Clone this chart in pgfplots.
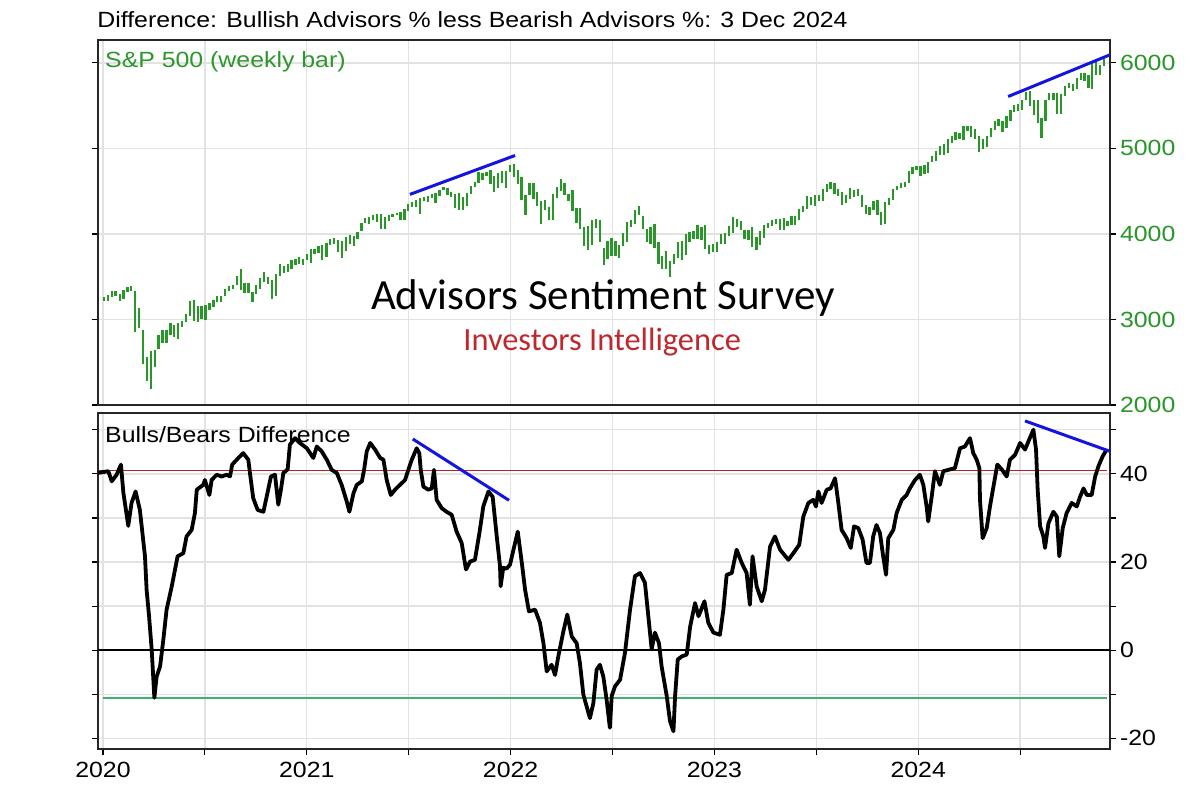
\documentclass[border=0pt]{standalone}
\usepackage{fontspec}
\setmainfont{Liberation Sans}
\newfontfamily\chartfont[FakeStretch=1.13]{Liberation Sans}
\newfontfamily\calibri{Carlito}
\usepackage{pgfplots}
\usepackage{pgfplotstable}
\pgfplotsset{compat=1.18}

\definecolor{spgreen}{RGB}{40,150,40}
\definecolor{lblgreen}{RGB}{45,150,45}
\definecolor{redline}{RGB}{178,34,34}
\definecolor{greenline}{RGB}{60,179,113}
\definecolor{trendblue}{RGB}{20,20,225}
\definecolor{iired}{RGB}{192,39,45}
\definecolor{gridgray}{RGB}{226,226,226}

\pgfplotstableread{
t lo hi
2020.005 3215 3260
2020.024 3215 3282
2020.043 3263 3330
2020.062 3280 3338
2020.082 3214 3293
2020.101 3235 3347
2020.120 3317 3385
2020.139 3328 3393
2020.158 2855 3337
2020.177 2901 3137
2020.197 2478 2882
2020.216 2281 2563
2020.235 2192 2637
2020.254 2447 2641
2020.273 2653 2818
2020.292 2724 2880
2020.312 2727 2871
2020.331 2821 2955
2020.350 2798 2933
2020.369 2767 2954
2020.388 2910 2980
2020.407 2969 3068
2020.427 3038 3211
2020.446 2984 3233
2020.465 2965 3155
2020.484 3007 3155
2020.503 2999 3165
2020.522 3115 3198
2020.542 3142 3233
2020.561 3200 3280
2020.580 3209 3272
2020.599 3280 3352
2020.618 3330 3387
2020.637 3355 3399
2020.657 3401 3509
2020.676 3349 3588
2020.695 3310 3425
2020.714 3305 3429
2020.733 3209 3321
2020.752 3297 3397
2020.772 3361 3482
2020.791 3441 3549
2020.810 3415 3502
2020.829 3234 3464
2020.848 3280 3529
2020.867 3511 3646
2020.887 3545 3628
2020.906 3555 3644
2020.925 3594 3700
2020.944 3633 3712
2020.963 3647 3726
2020.982 3636 3712
2021.002 3699 3760
2021.019 3663 3826
2021.038 3760 3823
2021.057 3779 3861
2021.076 3694 3870
2021.096 3726 3894
2021.115 3874 3937
2021.134 3885 3950
2021.153 3789 3928
2021.172 3723 3914
2021.191 3805 3960
2021.211 3886 3983
2021.230 3853 3978
2021.249 3944 4020
2021.268 4035 4129
2021.287 4122 4191
2021.306 4118 4194
2021.326 4167 4218
2021.345 4134 4238
2021.364 4056 4237
2021.383 4062 4200
2021.402 4146 4219
2021.421 4193 4233
2021.441 4219 4250
2021.460 4165 4257
2021.479 4165 4286
2021.498 4271 4355
2021.517 4311 4372
2021.536 4319 4393
2021.556 4234 4415
2021.575 4385 4430
2021.594 4368 4441
2021.613 4423 4468
2021.632 4367 4480
2021.651 4443 4513
2021.671 4508 4545
2021.690 4457 4539
2021.709 4430 4486
2021.728 4305 4465
2021.747 4279 4476
2021.766 4278 4429
2021.786 4329 4475
2021.805 4465 4559
2021.824 4546 4608
2021.843 4595 4718
2021.862 4630 4707
2021.881 4672 4718
2021.901 4586 4744
2021.920 4495 4672
2021.939 4532 4713
2021.958 4600 4731
2021.977 4532 4740
2021.996 4725 4808
2022.016 4663 4819
2022.035 4582 4749
2022.054 4395 4665
2022.073 4222 4453
2022.093 4451 4595
2022.112 4412 4590
2022.131 4327 4490
2022.150 4115 4385
2022.169 4279 4402
2022.188 4157 4320
2022.208 4161 4465
2022.227 4424 4546
2022.246 4506 4637
2022.265 4450 4593
2022.284 4381 4471
2022.303 4262 4513
2022.323 4124 4308
2022.342 4062 4307
2022.361 3859 4081
2022.380 3811 4090
2022.399 3875 4158
2022.418 4074 4178
2022.438 3900 4168
2022.457 3637 3838
2022.476 3705 3913
2022.495 3738 3951
2022.514 3743 3918
2022.533 3722 3875
2022.553 3856 4013
2022.572 3911 4140
2022.591 4079 4167
2022.610 4117 4281
2022.629 4218 4325
2022.648 4057 4204
2022.668 3907 4063
2022.687 3886 4077
2022.706 3838 4119
2022.725 3647 3908
2022.744 3585 3736
2022.763 3584 3806
2022.783 3491 3678
2022.802 3647 3762
2022.821 3716 3906
2022.840 3698 3920
2022.859 3750 4001
2022.878 3906 4028
2022.898 3940 4034
2022.917 3937 4100
2022.936 3923 4077
2022.955 3828 4101
2022.974 3764 3876
2022.993 3783 3878
2023.014 3794 3906
2023.033 3877 4004
2023.052 3886 4015
2023.071 3973 4094
2023.091 4015 4195
2023.110 4079 4176
2023.129 4047 4156
2023.148 3943 4050
2023.167 3928 4048
2023.186 3847 4079
2023.206 3808 3964
2023.225 3875 4039
2023.244 3951 4110
2023.263 4069 4133
2023.282 4098 4164
2023.301 4113 4170
2023.321 4049 4170
2023.340 4048 4187
2023.359 4098 4155
2023.378 4103 4212
2023.397 4103 4213
2023.416 4166 4290
2023.436 4260 4322
2023.455 4291 4448
2023.474 4341 4429
2023.493 4328 4458
2023.512 4385 4456
2023.531 4390 4527
2023.551 4494 4578
2023.570 4528 4607
2023.589 4464 4594
2023.608 4448 4527
2023.627 4336 4491
2023.646 4356 4458
2023.666 4403 4541
2023.685 4430 4514
2023.704 4444 4527
2023.723 4317 4458
2023.742 4238 4337
2023.761 4216 4310
2023.781 4284 4385
2023.800 4223 4393
2023.819 4103 4255
2023.838 4113 4374
2023.857 4341 4418
2023.876 4393 4521
2023.896 4513 4560
2023.915 4537 4599
2023.934 4546 4610
2023.953 4593 4739
2023.972 4699 4778
2023.991 4751 4793
2024.011 4682 4798
2024.030 4699 4802
2024.049 4714 4842
2024.068 4845 4907
2024.088 4853 4975
2024.107 4918 5030
2024.126 4920 5048
2024.145 4946 5111
2024.164 5057 5140
2024.183 5094 5190
2024.203 5105 5180
2024.222 5094 5262
2024.241 5203 5264
2024.260 5138 5264
2024.279 5107 5230
2024.298 4953 5150
2024.318 4990 5114
2024.337 5012 5139
2024.356 5128 5239
2024.375 5211 5325
2024.394 5257 5342
2024.413 5191 5315
2024.433 5234 5376
2024.452 5320 5447
2024.471 5420 5506
2024.490 5433 5524
2024.509 5448 5570
2024.528 5562 5655
2024.548 5497 5669
2024.567 5390 5565
2024.586 5300 5566
2024.605 5119 5358
2024.624 5325 5563
2024.643 5560 5643
2024.663 5560 5651
2024.682 5402 5651
2024.701 5407 5636
2024.720 5615 5733
2024.739 5703 5767
2024.758 5674 5757
2024.778 5696 5822
2024.797 5805 5878
2024.816 5784 5878
2024.835 5703 5863
2024.854 5696 6012
2024.873 5853 6017
2024.893 5853 5972
2024.912 5960 6044
}\sptable

\pgfplotstableread{
t v
2019.974 40.2
2020.026 40.6
2020.043 38.3
2020.067 39.8
2020.088 42.1
2020.100 35.7
2020.124 28.2
2020.140 33.4
2020.160 36.0
2020.181 31.8
2020.206 21.3
2020.214 13.7
2020.226 7.7
2020.239 0.1
2020.252 -10.8
2020.263 -6.0
2020.280 -3.7
2020.296 2.4
2020.312 9.2
2020.337 14.4
2020.366 21.3
2020.394 22.0
2020.410 25.8
2020.435 27.3
2020.451 31.1
2020.460 36.4
2020.492 37.5
2020.500 38.6
2020.522 35.2
2020.533 38.6
2020.558 39.8
2020.582 39.4
2020.607 39.8
2020.623 39.4
2020.634 42.1
2020.664 43.6
2020.688 44.7
2020.713 43.2
2020.721 40.2
2020.737 34.5
2020.759 31.8
2020.787 31.4
2020.803 34.8
2020.824 39.4
2020.844 39.8
2020.860 33.0
2020.873 36.4
2020.885 40.2
2020.906 41.0
2020.917 46.6
2020.942 48.1
2020.966 47.0
2021.000 45.8
2021.032 43.6
2021.049 46.2
2021.073 45.1
2021.098 43.2
2021.122 40.9
2021.147 40.2
2021.171 37.5
2021.196 33.7
2021.209 31.4
2021.229 35.6
2021.245 37.5
2021.270 38.3
2021.281 40.9
2021.294 45.1
2021.311 47.0
2021.335 45.5
2021.360 43.6
2021.376 43.2
2021.392 38.6
2021.412 35.2
2021.433 36.4
2021.457 37.5
2021.482 38.6
2021.498 40.9
2021.515 43.2
2021.539 45.8
2021.552 44.7
2021.559 40.9
2021.572 37.1
2021.596 36.4
2021.613 36.7
2021.624 40.9
2021.637 34.1
2021.662 32.2
2021.686 31.4
2021.711 30.7
2021.735 26.9
2021.760 24.3
2021.781 18.3
2021.801 20.1
2021.825 20.5
2021.847 26.6
2021.866 32.6
2021.891 36.0
2021.912 34.8
2021.932 25.8
2021.948 19.0
2021.951 14.5
2021.964 18.7
2021.980 18.5
2021.997 19.4
2022.014 22.8
2022.035 26.9
2022.055 19.8
2022.071 13.7
2022.090 8.8
2022.120 9.2
2022.144 6.2
2022.161 1.6
2022.177 -4.8
2022.201 -3.3
2022.218 -5.6
2022.234 -1.4
2022.259 4.3
2022.278 8.1
2022.300 3.1
2022.324 1.6
2022.340 -2.9
2022.357 -10.1
2022.389 -15.4
2022.406 -12.0
2022.422 -4.4
2022.438 -3.3
2022.455 -6.0
2022.471 -11.2
2022.487 -17.6
2022.496 -10.4
2022.512 -8.2
2022.537 -6.7
2022.561 -0.6
2022.586 9.2
2022.610 16.8
2022.635 17.5
2022.659 15.3
2022.679 6.2
2022.692 0.2
2022.708 4.0
2022.728 1.6
2022.741 -3.7
2022.766 -10.4
2022.782 -16.1
2022.799 -18.4
2022.807 -10.4
2022.820 -2.1
2022.840 -1.4
2022.864 -1.0
2022.881 5.4
2022.905 10.7
2022.922 7.7
2022.951 11.1
2022.970 6.2
2022.995 4.0
2023.027 3.5
2023.044 9.2
2023.060 17.1
2023.085 17.5
2023.109 22.8
2023.134 19.8
2023.158 17.5
2023.174 10.3
2023.187 21.3
2023.207 14.5
2023.232 11.1
2023.248 13.7
2023.273 23.5
2023.297 25.8
2023.322 22.8
2023.363 20.5
2023.387 22.0
2023.416 23.9
2023.436 30.3
2023.461 33.4
2023.485 34.1
2023.498 32.6
2023.510 36.0
2023.526 33.4
2023.551 36.4
2023.570 36.7
2023.592 39.0
2023.608 33.4
2023.624 27.3
2023.649 25.4
2023.669 23.2
2023.685 28.1
2023.706 27.7
2023.727 25.1
2023.746 19.8
2023.763 19.8
2023.779 25.8
2023.795 28.4
2023.812 26.6
2023.828 21.3
2023.842 17.1
2023.853 25.4
2023.878 27.3
2023.894 31.1
2023.919 34.1
2023.943 35.2
2023.960 36.8
2023.984 38.6
2024.008 39.8
2024.025 37.5
2024.041 32.6
2024.049 29.2
2024.066 34.8
2024.082 40.6
2024.106 37.5
2024.123 40.6
2024.155 41.0
2024.180 41.3
2024.205 45.8
2024.229 46.2
2024.254 48.1
2024.270 44.7
2024.287 43.2
2024.300 41.3
2024.303 34.1
2024.316 25.4
2024.336 27.7
2024.352 32.6
2024.369 37.1
2024.388 42.1
2024.410 41.0
2024.434 39.4
2024.450 43.2
2024.475 44.3
2024.500 47.0
2024.524 45.5
2024.541 47.4
2024.565 50.0
2024.578 45.5
2024.586 36.4
2024.598 28.1
2024.614 25.8
2024.622 23.2
2024.639 28.8
2024.663 31.4
2024.680 30.3
2024.692 21.3
2024.709 27.7
2024.728 31.1
2024.753 33.4
2024.778 32.6
2024.794 34.8
2024.811 36.7
2024.827 35.2
2024.851 35.2
2024.868 39.4
2024.884 41.7
2024.905 44.0
2024.925 45.5
}\bbtable

\pgfplotsset{
  panel/.style={
    scale only axis, width=506.15pt,
    xmin=2019.974, xmax=2024.941,
    axis line style={line width=1pt, black!85},
    grid=major, grid style={gridgray, line width=0.7pt},
    xtick={2020,2020.5,...,2024.5},
    tick align=outside, major tick length=3pt, minor tick length=2pt,
    yticklabel pos=right, ytick pos=both,
    tick style={black, line width=0.6pt},
    ticklabel style={font=\chartfont\fontsize{11}{13}\selectfont},
    yticklabel style={xshift=-1.5pt},
  }
}

\begin{document}
\begin{tikzpicture}
\path[use as bounding box] (0,0) rectangle (601.5pt,396pt);

\node[anchor=west, inner sep=0, font=\chartfont\fontsize{11}{13}\selectfont] at (48.5pt,386pt)
  {Difference: Bullish Advisors \% less Bearish Advisors \%: 3 Dec 2024};

\begin{axis}[panel, at={(48.85pt,193.5pt)}, anchor=south west, height=182.5pt,
  ymin=2000, ymax=6267, ytick={2000,3000,4000,5000,6000},
  yticklabels={2000,3000,4000,5000,6000},
  yticklabel style={text=spgreen},
  xticklabels={}, xtick style={draw=none}]
\addplot[draw=none, mark=none, forget plot,
  error bars/.cd, y dir=minus, y explicit, error mark=none,
  error bar style={draw=spgreen, line width=1.15pt}]
  table[x=t, y=hi, y error minus expr=\thisrow{hi}-\thisrow{lo}] {\sptable};
\addplot[trendblue, line width=1.5pt] coordinates {(2021.506,4462) (2022.022,4917)};
\addplot[trendblue, line width=1.5pt] coordinates {(2024.441,5606) (2024.941,6094)};
\node[anchor=west, inner sep=0, text=lblgreen, font=\chartfont\fontsize{11}{13}\selectfont]
  at (rel axis cs:0.007,0.94) {S\&P 500 (weekly bar)};
\node[font=\calibri\fontsize{21.5}{25}\selectfont] at (axis cs:2022.453,3249) {Advisors Sentiment Survey};
\node[font=\calibri\fontsize{16.2}{19}\selectfont, text=iired] at (axis cs:2022.449,2735) {Investors Intelligence};
\end{axis}

\begin{axis}[panel, at={(48.85pt,21.5pt)}, anchor=south west, height=168pt,
  ymin=-22.4, ymax=53.8, ytick={-20,-10,...,50},
  yticklabels={-20,,0,,20,,40,},
  xticklabels={2020,,2021,,2022,,2023,,2024,},
  xtick pos=bottom, minor x tick num=5]
\addplot[redline, line width=0.8pt] coordinates {(2019.974,40.8) (2024.925,40.8)};
\addplot[black, line width=0.9pt] coordinates {(2019.974,0) (2024.941,0)};
\addplot[greenline, line width=0.8pt] coordinates {(2020.0,-10.8) (2024.925,-10.8)};
\addplot[black, line width=1.9pt, line join=round] table[x=t, y=v] {\bbtable};
\addplot[trendblue, line width=1.5pt] coordinates {(2021.52,47.9) (2021.992,34.0)};
\addplot[trendblue, line width=1.5pt] coordinates {(2024.524,52.0) (2024.941,45.1)};
\node[anchor=west, inner sep=0, font=\chartfont\fontsize{11}{13}\selectfont]
  at (rel axis cs:0.007,0.935) {Bulls/Bears Difference};
\end{axis}
\end{tikzpicture}
\end{document}
